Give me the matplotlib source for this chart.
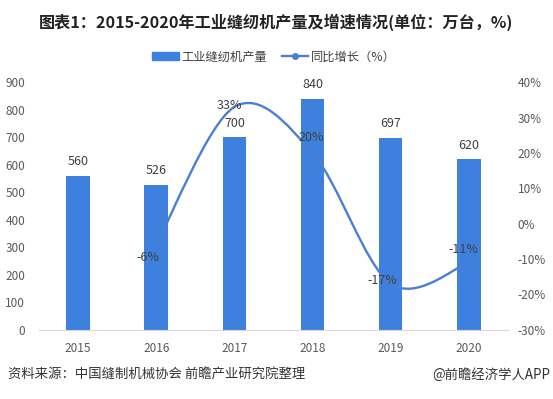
import matplotlib.pyplot as plt
from matplotlib.path import Path
from matplotlib.patches import PathPatch, Patch
from matplotlib.lines import Line2D
import numpy as np

plt.rcParams['font.family'] = ['Noto Sans CJK SC', 'DejaVu Sans']

years = ['2015', '2016', '2017', '2018', '2019', '2020']
output = [560, 526, 700, 840, 697, 620]          # 万台
growth_years = [1, 2, 3, 4, 5]                    # index into years
growth = [-6, 33, 20, -17, -11]                   # %

# where each growth label sits relative to its point (pixels, up is positive)
label_offsets = [(-8, -13), (-5, 1), (-1, 15), (-8, 3), (-5, 13)]

bar_color = '#3D80DD'
line_color = '#4A80D2'
text_color = '#404040'
tick_color = '#595959'

fig = plt.figure(figsize=(5.53, 3.99), dpi=100)
ax = fig.add_axes([0.0705, 0.174, 0.848, 0.620])
ax2 = ax.twinx()

x = np.arange(len(years))
ax.bar(x, output, width=0.3, color=bar_color, zorder=2)
for xi, v in zip(x, output):
    ax.annotate(str(v), (xi, v), xytext=(0, 5.5), textcoords='offset points',
                ha='center', va='bottom', fontsize=9, color=text_color)

ax.set_xlim(-0.5, len(years) - 0.5)
ax.set_ylim(0, 900)
ax.set_yticks(range(0, 901, 100))
ax.set_xticks(x)
ax.set_xticklabels(years)
ax.tick_params(axis='both', length=0, labelsize=8.5, labelcolor=tick_color)
ax.tick_params(axis='x', pad=9)
ax.tick_params(axis='y', pad=10)
for s in ax.spines.values():
    s.set_visible(False)
ax.spines['bottom'].set_visible(True)
ax.spines['bottom'].set_color('#D9D9D9')

ax2.set_ylim(-30, 40)
ax2.set_yticks(range(-30, 41, 10))
ax2.set_yticklabels([f'{t}%' for t in range(-30, 41, 10)])
ax2.tick_params(axis='y', length=0, labelsize=8.5, labelcolor=tick_color, pad=7)
for s in ax2.spines.values():
    s.set_visible(False)

# smoothed line (Excel-style bezier through the points)
px = np.array(growth_years, dtype=float)
py = np.array(growth, dtype=float)
verts = [(px[0], py[0])]
codes = [Path.MOVETO]
t = 1 / 6
for i in range(len(px) - 1):
    p0 = (px[i - 1], py[i - 1]) if i > 0 else (px[i], py[i])
    p1 = (px[i], py[i])
    p2 = (px[i + 1], py[i + 1])
    p3 = (px[i + 2], py[i + 2]) if i + 2 < len(px) else p2
    c1 = (p1[0] + (p2[0] - p0[0]) * t, p1[1] + (p2[1] - p0[1]) * t)
    c2 = (p2[0] - (p3[0] - p1[0]) * t, p2[1] - (p3[1] - p1[1]) * t)
    verts += [c1, c2, p2]
    codes += [Path.CURVE4] * 3
ax2.add_patch(PathPatch(Path(verts, codes), fill=False, edgecolor=line_color,
                        lw=1.7, zorder=3))

for xi, v, (dx, dy) in zip(px, py, label_offsets):
    ax2.annotate(f'{int(v)}%', (xi, v), xytext=(dx * 0.72, dy * 0.72),
                 textcoords='offset points', ha='center', va='center',
                 fontsize=9, color=text_color)

fig.text(0.5, 0.945, '图表1：2015-2020年工业缝纫机产量及增速情况(单位：万台，%)',
         ha='center', va='center', fontsize=11.6, fontweight='bold', color='#222222')

handles = [Patch(color=bar_color),
           Line2D([], [], color=line_color, lw=1.7, marker='o', markersize=4)]
fig.legend(handles, ['工业缝纫机产量', '同比增长（%）'], loc='center',
           bbox_to_anchor=(0.495, 0.857), ncol=2, frameon=False, fontsize=8.8,
           handlelength=2.2, handleheight=0.6, columnspacing=1.2, handletextpad=0.2,
           labelcolor=text_color)

fig.text(0.014, 0.06, '资料来源：中国缝制机械协会 前瞻产业研究院整理',
         ha='left', va='center', fontsize=9.6, color='#333333')
fig.text(0.995, 0.06, '@前瞻经济学人APP',
         ha='right', va='center', fontsize=9.6, color='#333333')

fig.savefig('out.png', dpi=100)
